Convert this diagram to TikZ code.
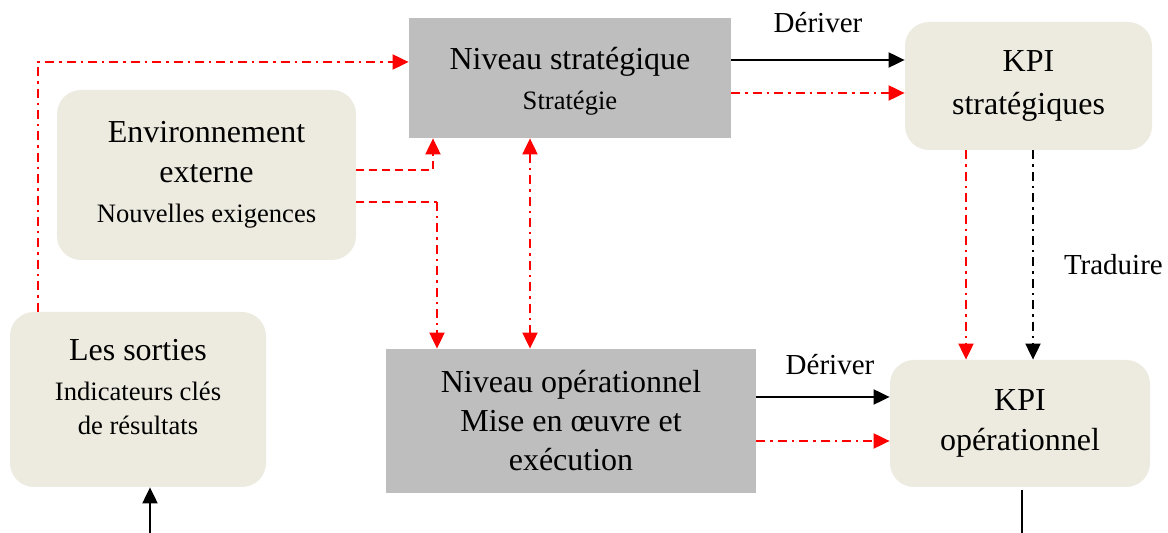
\documentclass[tikz,border=0pt]{standalone}
\usepackage{fontspec}
\setmainfont{Liberation Serif}
\usepackage{tikz}
\usetikzlibrary{arrows.meta}
\usetikzlibrary{positioning}
\definecolor{beige}{RGB}{237,235,224}
\definecolor{boxgray}{RGB}{190,190,190}
\newcommand{\bigtxt}{\fontsize{16}{20}\selectfont}
\newcommand{\smalltxt}{\fontsize{13.3}{20}\selectfont}
\newcommand{\labeltxt}{\fontsize{14.5}{17}\selectfont}
\tikzset{levelbox/.style = {fill=boxgray, inner sep=0pt, align=center, font=\bigtxt},
         kpibox/.style = {fill=beige, rounded corners=12pt, inner sep=0pt, align=center, font=\bigtxt},
         tip/.style = {-{Triangle[length=8pt, width=7.5pt]}},
         link/.style = {tip, line width=1pt, black},
         reddash/.style = {line width=1pt, red, dash pattern=on 4pt off 2.5pt},
         reddashdot/.style = {line width=1pt, red, dash pattern=on 4.5pt off 2.5pt on 1.2pt off 2.5pt},
         blackdashdot/.style = {line width=1pt, black, dash pattern=on 4.5pt off 2.5pt on 1.2pt off 2.5pt},
         lbl/.style = {inner sep=0pt, font=\labeltxt}}

\begin{document}
\begin{tikzpicture}[x=0.5pt, y=-0.5pt]
    \useasboundingbox (0, 0) rectangle (1168, 533);

    \node [levelbox, minimum width=161pt, minimum height=60pt, text depth=0pt] (strat) at (570, 78)
        {Niveau stratégique\\\smalltxt Stratégie};
    \node [kpibox, minimum width=123.5pt, minimum height=64pt] (kpis) at (1028.5, 86)
        {KPI\\[1.5pt]stratégiques};
    \node [kpibox, minimum width=149.5pt, minimum height=85pt] (env) at (206.5, 175)
        {Environnement\\externe\\\smalltxt Nouvelles exigences};
    \node [kpibox, minimum width=128pt, minimum height=87.5pt, text depth=13pt] (sorties) at (138, 399.5)
        {Les sorties\\\smalltxt Indicateurs clés\\[-3pt]\smalltxt de résultats};
    \node [levelbox, minimum width=185pt, minimum height=72pt] (oper) at (571, 421)
        {Niveau opérationnel\\[-0.5pt]Mise en œuvre et\\[-0.5pt]exécution};
    \node [kpibox, minimum width=130pt, minimum height=63.5pt] (kpio) at (1020, 423.5)
        {KPI\\opérationnel};

    \coordinate (c1) at (38, 62);
    \coordinate (c2) at (433, 170);
    \coordinate (c3) at (437, 202);
    \coordinate (in) at (150, 533);
    \coordinate (out) at (1022, 533);

    \draw [reddashdot, tip] (sorties.north -| c1) -- (c1) -- (strat.west |- c1);
    \draw [reddash, tip] (env.east |- c2) -- (c2) -- (strat.south -| c2);
    \draw [reddash] (env.east |- c3) -- (c3);
    \draw [reddashdot, tip] (c3) -- (oper.north -| c3);
    \draw [reddashdot, {Triangle[length=8pt, width=7.5pt]}-{Triangle[length=8pt, width=7.5pt]}]
        ([xshift=-20pt] strat.south) -- ([xshift=-20pt] strat.south |- oper.north);

    \draw [link] ([yshift=9pt] strat.east) -- ([yshift=9pt] strat.east -| kpis.west)
        node [lbl, midway, above=13pt] {Dériver};
    \draw [reddashdot, tip] ([yshift=-7.5pt] strat.east) -- ([yshift=-7.5pt] strat.east -| kpis.west);

    \draw [reddashdot, tip] ([xshift=-31.25pt] kpis.south) -- ([xshift=-31.25pt] kpis.south |- kpio.north);
    \draw [blackdashdot, tip] ([xshift=2.25pt] kpis.south) -- ([xshift=2.25pt] kpis.south |- kpio.north)
        node [lbl, midway, right=15pt, yshift=-5pt] {Traduire};

    \draw [link] ([yshift=12pt] oper.east) -- ([yshift=12pt] oper.east -| kpio.west)
        node [lbl, midway, above=10.5pt, xshift=3.5pt] {Dériver};
    \draw [reddashdot, tip] ([yshift=-10pt] oper.east) -- ([yshift=-10pt] oper.east -| kpio.west);

    \draw [link] (in) -- (sorties.south -| in);
    \draw [line width=1pt] ([yshift=-1.5pt] kpio.south -| out) -- (out);
  \end{tikzpicture}
\end{document}
